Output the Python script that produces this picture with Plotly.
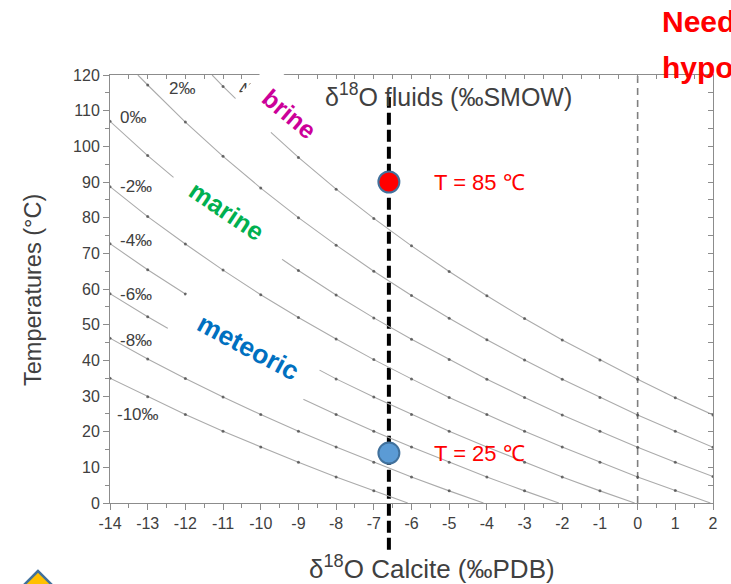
import plotly.graph_objects as go

# ------------------------------------------------------------------ data
# iso-lines of fluid d18O (permil SMOW): calcite d18O (permil PDB) vs temperature (deg C)
FLUID_LABELS = ["4‰", "2‰", "0‰", "-2‰", "-4‰", "-6‰", "-8‰", "-10‰"]

X_W4 = [-11.29, -11, -10, -9, -8, -7, -6, -5, -4, -3, -2, -1, 0, 1, 2]
T_W4 = [120, 116.8, 106.5, 96.9, 88.0, 79.8, 72.1, 64.9, 58.1, 51.7, 45.7, 40.1, 34.7, 29.5, 24.7]

X_W2 = [-13.26, -13, -12, -11, -10, -9, -8, -7, -6, -5, -4, -3, -2, -1, 0, 1, 2]
T_W2 = [120, 117.2, 106.8, 97.2, 88.3, 80.0, 72.3, 65.0, 58.2, 51.8, 45.8, 40.1, 34.7, 29.6, 24.7, 20.1, 15.6]

X_W0 = [-14, -13, -12, -11, -10, -9, -8, -7, -6, -5, -4, -3, -2, -1, 0, 1, 2]
T_W0 = [107.0, 97.4, 88.5, 80.2, 72.4, 65.2, 58.3, 51.9, 45.9, 40.2, 34.7, 29.6, 24.7, 20.1, 15.6, 11.4, 7.4]

X_WM2 = [-14, -13, -12, -11, -10, -9, -8, -7, -6, -5, -4, -3, -2, -1, 0, 1, 1.93]
T_WM2 = [88.7, 80.3, 72.6, 65.3, 58.4, 52.0, 46.0, 40.2, 34.8, 29.6, 24.8, 20.1, 15.7, 11.4, 7.3, 3.5, 0]

X_WM4 = [-14, -13, -12, -11, -10, -9, -8, -7, -6, -5, -4, -3, -2, -1, -0.08]
T_WM4 = [72.7, 65.4, 58.6, 52.1, 46.0, 40.3, 34.8, 29.7, 24.8, 20.1, 15.7, 11.4, 7.3, 3.4, 0]

X_WM6 = [-14, -13, -12, -11, -10, -9, -8, -7, -6, -5, -4, -3, -2.09]
T_WM6 = [58.7, 52.2, 46.1, 40.3, 34.9, 29.7, 24.8, 20.1, 15.7, 11.4, 7.3, 3.4, 0]

X_WM8 = [-14, -13, -12, -11, -10, -9, -8, -7, -6, -5, -4.09]
T_WM8 = [46.2, 40.4, 34.9, 29.7, 24.8, 20.1, 15.7, 11.4, 7.3, 3.4, 0]

X_WM10 = [-14, -13, -12, -11, -10, -9, -8, -7, -6.10]
T_WM10 = [35.0, 29.8, 24.8, 20.1, 15.7, 11.4, 7.3, 3.4, 0]

CURVES_X = [X_W4, X_W2, X_W0, X_WM2, X_WM4, X_WM6, X_WM8, X_WM10]
CURVES_T = [T_W4, T_W2, T_W0, T_WM2, T_WM4, T_WM6, T_WM8, T_WM10]

# measured calcite value and the two temperatures read from it
SAMPLE_X = [-6.6, -6.6]
SAMPLE_T = [90, 14]
SAMPLE_LABELS = ["T = 85 ℃", "T = 25 ℃"]
SAMPLE_FILL = ["#FF0000", "#5B9BD5"]
MEASURE_LINE_T = [-13.1, 113.8]      # extent of the thick dashed line (deg C)
REFERENCE_X = [0, 0]                  # 0 permil PDB reference line
REFERENCE_T = [0, 120]

REGION_LABELS = ["brine", "marine", "meteoric"]
REGION_COLORS = ["#CC0099", "#00B050", "#0070C0"]

X_TICKS = [-14, -13, -12, -11, -10, -9, -8, -7, -6, -5, -4, -3, -2, -1, 0, 1, 2]
X_TICK_LABELS = ["-14", "-13", "-12", "-11", "-10", "-9", "-8", "-7", "-6", "-5",
                 "-4", "-3", "-2", "-1", "0", "1", "2"]
Y_TICKS = [0, 10, 20, 30, 40, 50, 60, 70, 80, 90, 100, 110, 120]
Y_TICK_LABELS = ["0", "10", "20", "30", "40", "50", "60", "70", "80", "90", "100", "110", "120"]

X_RANGE = [-14, 2]
Y_RANGE = [0, 120]

# ------------------------------------------------------------------ layout constants
W, H = 731, 584
ML, MR, MT, MB = 110, 18, 75, 81
PW, PH = W - ML - MR, H - MT - MB
FONT = "Liberation Sans, Arial, sans-serif"
TXT = "#404040"
AX = "#8c8c8c"


def px2paper(px, py):
    return (px - ML) / PW, (MT + PH - py) / PH


def x2paper(x):
    return (x - X_RANGE[0]) / (X_RANGE[1] - X_RANGE[0])


def t2paper(t):
    return (t - Y_RANGE[0]) / (Y_RANGE[1] - Y_RANGE[0])


fig = go.Figure()

# reference dashed line at 0 permil
fig.add_trace(go.Scatter(x=REFERENCE_X, y=REFERENCE_T, mode="lines",
                         line=dict(color="#7f7f7f", width=1.6, dash="7px,5px"),
                         hoverinfo="skip", showlegend=False))

# iso-lines
for xs, ts in zip(CURVES_X, CURVES_T):
    sizes = [3 if float(v).is_integer() else 0 for v in xs]
    fig.add_trace(go.Scatter(x=xs, y=ts, mode="lines+markers",
                             line=dict(color="#ababab", width=1.1),
                             marker=dict(size=sizes, color="#3a3a3a", line=dict(width=0)),
                             hoverinfo="skip", showlegend=False))

# sample points
fig.add_trace(go.Scatter(x=SAMPLE_X, y=SAMPLE_T, mode="markers",
                         marker=dict(size=21, color=SAMPLE_FILL,
                                     line=dict(color="#41719C", width=2)),
                         cliponaxis=False, hoverinfo="skip", showlegend=False))

# dummy trace for top/right mirror axes
fig.add_trace(go.Scatter(x=[None], y=[None], xaxis="x2", yaxis="y2",
                         hoverinfo="skip", showlegend=False))

shapes = []
# thick dashed measurement line (below traces so the dots sit on top of it)
shapes.append(dict(type="line", xref="paper", yref="paper",
                   x0=x2paper(SAMPLE_X[0]), x1=x2paper(SAMPLE_X[0]),
                   y0=t2paper(MEASURE_LINE_T[0]), y1=t2paper(MEASURE_LINE_T[1]),
                   line=dict(color="black", width=4, dash="12px,5px"), layer="below"))
# little slide icon bottom-left
pts = [px2paper(38, 571), px2paper(18, 591), px2paper(38, 611), px2paper(58, 591)]
path = "M " + " L ".join(f"{a:.4f},{b:.4f}" for a, b in pts) + " Z"
shapes.append(dict(type="path", xref="paper", yref="paper", path=path,
                   fillcolor="#FFC000", line=dict(color="#41719C", width=2.5)))

ann = []
# curve labels (left edge positions in data units)
LABEL_POS = {"4‰": (-10.63, 116.0), "2‰": (-12.49, 116.1), "0‰": (-13.79, 108.0),
             "-2‰": (-13.79, 88.6), "-4‰": (-13.79, 73.5), "-6‰": (-13.79, 58.4),
             "-8‰": (-13.79, 45.5), "-10‰": (-13.87, 24.7)}
for lab in FLUID_LABELS:
    lx, ly = LABEL_POS[lab]
    ann.append(dict(x=lx, y=ly, xref="x", yref="y", text=lab, showarrow=False,
                    xanchor="left", yanchor="middle",
                    font=dict(family=FONT, size=17, color=TXT)))

# white masks (slide text boxes) covering parts of the iso-lines
MASKS = [(-9.76, 113.4, 48, 54, 45), (-10.82, 80.4, 135, 30, 38), (-10.42, 43.8, 152, 46, 29)]
for mx, my, mw, mh, ma in MASKS:
    ann.append(dict(x=mx, y=my, xref="x", yref="y", text=" ", showarrow=False,
                    width=mw, height=mh, bgcolor="white", borderpad=0, textangle=ma,
                    xanchor="center", yanchor="middle"))

REGION_POS = [(-9.23, 109.1, 40, 25), (-10.90, 81.9, 34, 25.5), (-10.35, 43.7, 28, 26.5)]
for lab, col, (rx, ry, ra, rs) in zip(REGION_LABELS, REGION_COLORS, REGION_POS):
    ann.append(dict(x=rx, y=ry, xref="x", yref="y", text=f"<b>{lab}</b>", showarrow=False,
                    textangle=ra, xanchor="center", yanchor="middle",
                    font=dict(family=FONT, size=rs, color=col)))

for sx, st, lab in zip(SAMPLE_X, SAMPLE_T, SAMPLE_LABELS):
    ann.append(dict(x=sx + 1.14, y=st, xref="x", yref="y", text=lab, showarrow=False,
                    xanchor="left", yanchor="middle",
                    font=dict(family=FONT, size=22, color="#FF0000")))

# axis titles and top caption
ax_, ay_ = px2paper(448, 95)
ann.append(dict(x=ax_, y=ay_, xref="paper", yref="paper",
                text="δ<sup>18</sup>O fluids (‰SMOW)", showarrow=False,
                xanchor="center", yanchor="middle", font=dict(family=FONT, size=25, color=TXT)))
bx_, by_ = px2paper(432.5, 567)
ann.append(dict(x=bx_, y=by_, xref="paper", yref="paper",
                text="δ<sup>18</sup>O Calcite (‰PDB)", showarrow=False,
                xanchor="center", yanchor="middle", font=dict(family=FONT, size=26, color=TXT)))
cx_, cy_ = px2paper(33, 290)
ann.append(dict(x=cx_, y=cy_, xref="paper", yref="paper",
                text="Temperatures (°C)", showarrow=False, textangle=-90,
                xanchor="center", yanchor="middle", font=dict(family=FONT, size=23.5, color=TXT)))

# slide text at top right, cut by the page edge
for txt, py in [("<b>Need</b>", 22), ("<b>hypo</b>", 68)]:
    tx, ty = px2paper(661, py)
    ann.append(dict(x=tx, y=ty, xref="paper", yref="paper", text=txt, showarrow=False,
                    xanchor="left", yanchor="middle", align="left", width=W - 661,
                    borderpad=0, font=dict(family=FONT, size=30, color="#FF0000")))

fig.update_layout(
    width=W, height=H, autosize=False,
    margin=dict(l=ML, r=MR, t=MT, b=MB, pad=0),
    paper_bgcolor="white", plot_bgcolor="rgba(0,0,0,0)",
    showlegend=False,
    xaxis=dict(range=X_RANGE, tickmode="array", tickvals=X_TICKS, ticktext=X_TICK_LABELS,
               ticks="outside", ticklen=6, tickcolor=AX,
               showline=True, linecolor=AX, linewidth=1, showgrid=False, zeroline=False,
               tickfont=dict(family=FONT, size=16, color=TXT),
               minor=dict(dtick=0.5, tick0=0, ticks="outside", ticklen=4, tickcolor=AX)),
    yaxis=dict(range=Y_RANGE, tickmode="array", tickvals=Y_TICKS, ticktext=Y_TICK_LABELS,
               ticks="outside", ticklen=6, tickcolor=AX,
               showline=True, linecolor=AX, linewidth=1, showgrid=False, zeroline=False,
               tickfont=dict(family=FONT, size=16, color=TXT),
               minor=dict(dtick=5, tick0=0, ticks="outside", ticklen=4, tickcolor=AX)),
    xaxis2=dict(range=X_RANGE, overlaying="x", side="top", anchor="y", dtick=0.5, tick0=0,
                ticks="inside", ticklen=4, tickcolor=AX, showticklabels=False,
                showline=True, linecolor=AX, showgrid=False, zeroline=False),
    yaxis2=dict(range=Y_RANGE, overlaying="y", side="right", anchor="x", dtick=5, tick0=0,
                ticks="inside", ticklen=5, tickcolor=AX, showticklabels=False,
                showline=True, linecolor=AX, showgrid=False, zeroline=False),
    shapes=shapes,
    annotations=ann,
)

fig.write_html(
    "out.html",
    config={"displayModeBar": False},
    post_script="document.documentElement.style.overflow='hidden';"
                "document.body.style.overflow='hidden';document.body.style.margin='0';",
)
